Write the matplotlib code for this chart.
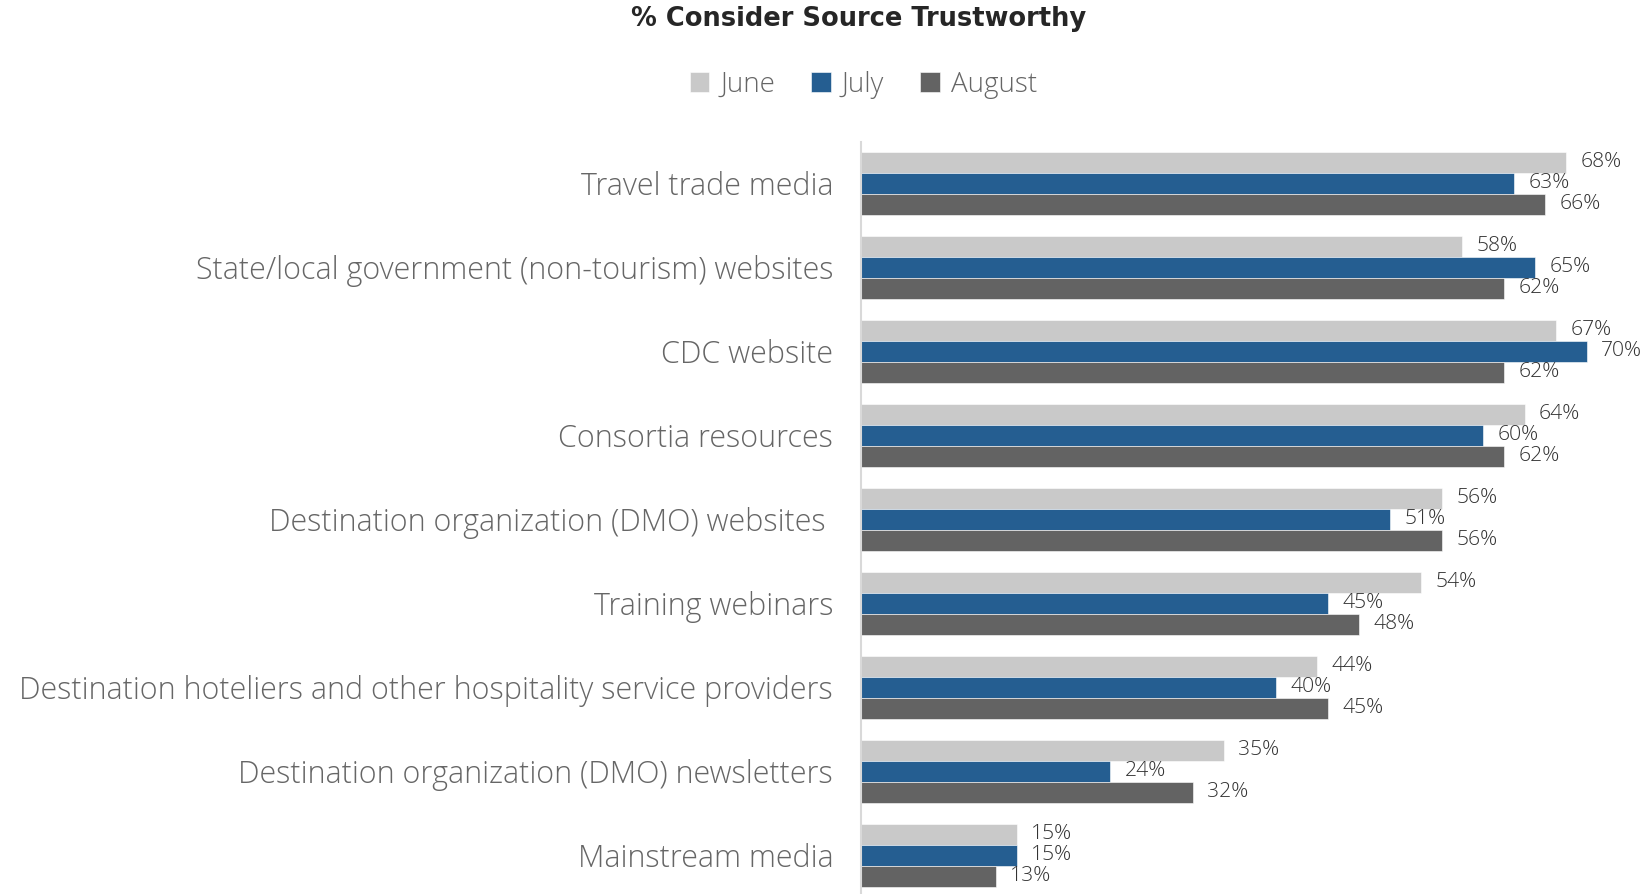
import matplotlib
matplotlib.use("Agg")
import matplotlib.pyplot as plt
import numpy as np

categories = [
    "Travel trade media",
    "State/local government (non-tourism) websites",
    "CDC website",
    "Consortia resources",
    "Destination organization (DMO) websites ",
    "Training webinars",
    "Destination hoteliers and other hospitality service providers",
    "Destination organization (DMO) newsletters",
    "Mainstream media",
]
june = [68, 58, 67, 64, 56, 54, 44, 35, 15]
july = [63, 65, 70, 60, 51, 45, 40, 24, 15]
august = [66, 62, 62, 62, 56, 48, 45, 32, 13]
series_names = ["June", "July", "August"]
colors = ["#c9c9c9", "#255e91", "#636363"]

plt.rcParams['font.family'] = ['Open Sans', 'DejaVu Sans']

fig = plt.figure(figsize=(16.51, 8.94), dpi=100)
ax = fig.add_axes([0.5215, 0.0, 0.471, 0.841])

y = np.arange(len(categories))
h = 0.25
for i, (vals, name, c) in enumerate(zip([june, july, august], series_names, colors)):
    pos = y + (i - 1) * h
    ax.barh(pos, vals, height=h, color=c, label=name, edgecolor='white', linewidth=0.4)
    for p, v in zip(pos, vals):
        ax.text(v + 1.4, p, f"{v}%", va='center', ha='left', fontsize=15.2,
                color='#333333', fontweight='light')

ax.set_xlim(0, 75)
ax.set_ylim(8.46, -0.49)
ax.set_yticks(y)
ax.set_yticklabels(categories, fontsize=22, color='#666666', fontweight='light')
ax.tick_params(axis='y', length=0, pad=20)
ax.set_xticks([])
for s in ['top', 'right', 'bottom']:
    ax.spines[s].set_visible(False)
ax.spines['left'].set_color('#d9d9d9')
ax.spines['left'].set_linewidth(1.5)

fig.text(0.52, 0.979, "% Consider Source Trustworthy", ha='center', va='center',
         fontsize=18.5, fontweight='bold', color='#262626', family='DejaVu Sans')

handles, labels = ax.get_legend_handles_labels()
leg = fig.legend(handles, labels, loc='center', bbox_to_anchor=(0.523, 0.905), ncol=3,
           frameon=False, fontsize=20, handlelength=0.7, handleheight=0.7,
           handletextpad=0.4, columnspacing=1.3, labelcolor='#666666')
for t in leg.get_texts():
    t.set_fontweight('light')

fig.savefig("out.png", dpi=100)
